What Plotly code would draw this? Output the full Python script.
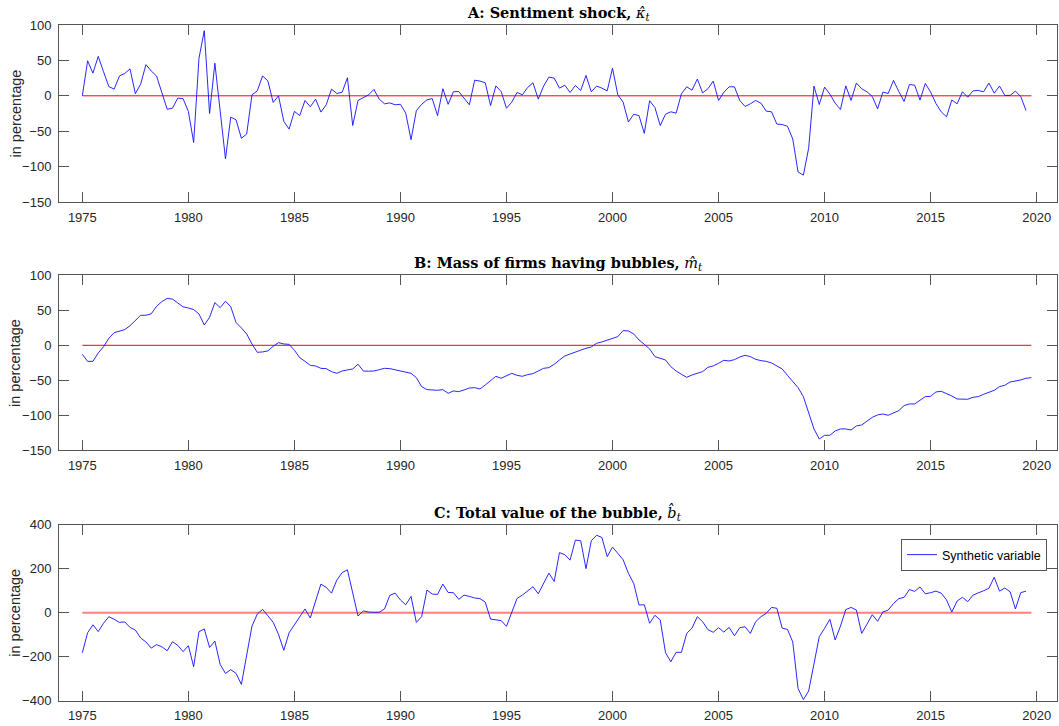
import plotly.graph_objects as go

# ---------------- data (quarterly, starting 1975Q1) ----------------
sentiment_shock = [
    0, 49.5, 32, 55.7, 34, 13, 9.4, 28, 31.6, 38, 3, 16.5, 44, 35, 28, 5, -19, -17.5, -3.3, -4,
    -22, -66, 53, 92, -25, 46, -22, -89, -30, -34, -60, -54, 1.4, 7, 28, 21, -9.4, 0, -36, -47,
    -22, -28, -6.6, -15.6, -4.7, -23, -12.7, 9.4, 3.3, 5, 25.5, -42, -6.6, -2, 1.4, 9, -4.7, -11.3, -10, -12.7,
    -12, -24.5, -62, -21, -12, -5.7, -4, -28, 10, -12, 5.7, 6, -3.3, -12.7, 22, 20.8, 18.4, -13.7, 14, 6,
    -17.5, -9, 4.7, 1.4, 11.8, 18.4, -4.7, 13.7, 26.4, 25, 10.8, 15, 4.7, 14.6, 7.5, 28.8, 5.7, 13.7, 10.8, 7,
    39, 1.4, -9, -37, -26, -28, -53, -7, -16.5, -42, -26, -22.6, -24.5, 2.8, 12.7, 8, 23.6, 4.2, 10, 20.8,
    -6.6, 5, 12.7, 12.7, -6.6, -15, -11.3, -6.6, -10.4, -21.7, -22.6, -40, -40.6, -43, -61, -107.5, -112, -74, 13.7, -12.3,
    12.3, 2.4, -10.4, -19.3, 14, -6.6, 18, 10, 5.7, -1, -18.4, 5.2, 3.3, 21.7, 6, -8, 16, 15, -6, 17.5,
    5.2, -10.8, -22.6, -29.7, -6, -11.3, 5.7, -2, 7, 7.5, 5.7, 18, 3.8, 13.7, 0.5, 0.5, 6.6, -1, -20.8,
]

mass_of_firms = [
    -12.9, -22.9, -22.9, -11, -2, 10, 18, 20.5, 22.4, 28, 34.8, 42.9, 42.9, 45, 55.7, 62.4, 67, 66, 60.5, 55,
    53.3, 51, 44.8, 29, 40, 61, 53.8, 62.9, 55, 32.4, 24.8, 16.2, 1.9, -10, -9.5, -8, -1.4, 3.8, 1.9, 1.4,
    -7, -17.6, -22.9, -28.6, -29.5, -32.9, -33.3, -37.6, -40, -36.7, -35.2, -33.8, -27, -36.7, -37, -36.7, -34.8, -32.9, -33.3, -34.8,
    -36, -37.6, -40, -46.2, -59, -63.3, -64.3, -64.3, -63.3, -68.6, -65.2, -66.2, -63.8, -61, -60.5, -62.4, -56.7, -50, -44.3, -47.1,
    -43.3, -40, -42.9, -44.3, -41.9, -40.5, -36.7, -32.9, -31.9, -27.1, -21, -15.2, -12.4, -9.5, -7.6, -4.3, -2.4, 2.9, 4.8, 7.6,
    10.5, 12.4, 21, 20.5, 16.2, 7.6, 1.4, -5.2, -16.2, -18.1, -21, -30.5, -36.7, -41.4, -45.7, -42.4, -40.5, -37.6, -31.4, -29.5,
    -25.7, -21.4, -22.4, -20.5, -16.7, -14.3, -16.2, -20, -21.9, -22.9, -25.2, -29, -33.8, -42.9, -51.4, -60.5, -73.3, -97.1, -119.5, -133.8,
    -128.6, -128.6, -122.4, -119.5, -119.5, -121, -115.2, -113.8, -108.1, -102.9, -99.5, -98.1, -100, -96.2, -93.3, -86.2, -83.8, -83.8, -78.1, -73.3,
    -72.9, -66.7, -65.7, -68.6, -72.4, -76.7, -76.7, -77.1, -74.3, -73.3, -70, -66.7, -64.3, -59, -57.1, -52.4, -51, -49.5, -47.1, -46.2,
]

bubble_value = [
    -182, -91, -55, -86, -48, -18, -30, -44, -42, -67, -79, -115, -133, -161, -145, -155, -173, -132, -148, -177,
    -150, -245, -86, -74, -158, -129, -235, -276, -259, -276, -326, -185, -61, -6, 15, -14, -44, -98, -171, -91,
    -55, -21, 17, -24, 55, 130, 115, 89, 148, 182, 195, 88, -15, 8, 3, 2, 2, 17, 79, 89,
    58, 36, 74, -44, -18, 103, 85, 83, 130, 92, 91, 61, 80, 74, 67, 64, 48, -29, -33, -36,
    -62, 6, 65, 80, 100, 118, 86, 136, 180, 142, 273, 264, 239, 330, 327, 200, 327, 352, 342, 255,
    298, 270, 241, 179, 133, 35, 36, -48, -12, -33, -182, -223, -180, -180, -94, -70, -18, -41, -77, -89,
    -68, -88, -67, -105, -68, -64, -94, -41, -18, -3, 24, 20, -70, -76, -133, -344, -395, -356, -223, -109,
    -71, -30, -124, -61, 14, 24, 12, -94, -52, -9, -39, 3, 12, 42, 64, 70, 105, 97, 117, 86,
    91, 98, 89, 58, 3, 53, 70, 50, 80, 89, 100, 111, 161, 98, 112, 95, 17, 91, 98,
]

start_year = 1975
zero_line_x = [1975, 2019.75]
zero_line_y = [0, 0]
x_tick_vals = [1975, 1980, 1985, 1990, 1995, 2000, 2005, 2010, 2015, 2020]

MATH = '<span style="font-family:\'DejaVu Serif\'"><i>{}</i></span>'
panel_titles = [
    "<b>A: Sentiment shock,</b> " + MATH.format("\u03ba\u0302<sub>t</sub>"),
    "<b>B: Mass of firms having bubbles,</b> " + MATH.format("m\u0302<sub>t</sub>"),
    "<b>C: Total value of the bubble,</b> " + MATH.format("b\u0302<sub>t</sub>"),
]
y_label = "in percentage"
legend_label = "Synthetic variable"
y_ranges = [[-150, 100], [-150, 100], [-400, 400]]
y_ticks = [[-150, -100, -50, 0, 50, 100], [-150, -100, -50, 0, 50, 100], [-400, -200, 0, 200, 400]]

series = [sentiment_shock, mass_of_firms, bubble_value]


def quarters(n):
    return [start_year + q / 4 for q in range(n)]


# ---------------- layout geometry (pixels) ----------------
W, H = 1059, 726
L, R = 59, 2
panels_px = [(25, 202), (275.3, 450.3), (524.7, 700.7)]  # top, bottom
title_center_px = [13, 263, 513]
ylabel_center_px = [113.5, 363, 612.7]


def py(p):
    return (H - p) / H


fig = go.Figure()
axis_font = dict(family="Liberation Sans, Arial, sans-serif", size=13, color="#262626")
line_col = "#555555"

for i, ys in enumerate(series):
    ax = "" if i == 0 else str(i + 1)
    fig.add_trace(go.Scatter(
        x=zero_line_x, y=zero_line_y, mode="lines",
        line=dict(color="red" if i < 2 else "rgba(255,0,0,0.5)", width=1 if i < 2 else 2),
        showlegend=False, xaxis="x" + ax, yaxis="y" + ax, hoverinfo="skip",
    ))
    fig.add_trace(go.Scatter(
        x=quarters(len(ys)), y=ys, mode="lines",
        line=dict(color="#1010ff", width=0.9),
        name=legend_label, showlegend=(i == 2),
        xaxis="x" + ax, yaxis="y" + ax,
    ))
    top, bot = panels_px[i]
    common = dict(showline=True, linecolor=line_col, linewidth=1, mirror="ticks",
                  ticks="inside", ticklen=10, tickcolor=line_col, tickwidth=1,
                  showgrid=False, zeroline=False, tickfont=axis_font, automargin=False)
    fig.layout["xaxis" + ax] = dict(
        domain=[0, 1], anchor="y" + ax, range=[1973.9, 2020.96],
        tickmode="array", tickvals=x_tick_vals, ticklabelstandoff=3, **common)
    fig.layout["yaxis" + ax] = dict(
        domain=[py(bot), py(top)], anchor="x" + ax, range=y_ranges[i],
        tickmode="array", tickvals=y_ticks[i], ticklabelstandoff=4, **common)
    fig.add_annotation(
        text=panel_titles[i], xref="paper", yref="paper", x=0.5, y=py(title_center_px[i]),
        xanchor="center", yanchor="middle", showarrow=False,
        font=dict(family="DejaVu Serif, Liberation Serif, serif", size=14.5, color="black"))
    fig.add_annotation(
        text=y_label, xref="paper", yref="paper", x=(15 - L) / (W - L - R), y=py(ylabel_center_px[i]),
        xanchor="center", yanchor="middle", textangle=-90, showarrow=False,
        font=dict(family="Liberation Sans, Arial, sans-serif", size=14.5, color="#262626"))

fig.update_layout(
    width=W, height=H,
    margin=dict(l=L, r=R, t=0, b=0, autoexpand=False),
    paper_bgcolor="white", plot_bgcolor="white",
    legend=dict(x=(1047 - L) / (W - L - R), y=py(539), xanchor="right", yanchor="top",
                bgcolor="white", bordercolor="#555555", borderwidth=1,
                font=dict(family="Liberation Sans, Arial, sans-serif", size=12.5, color="black"),
                tracegroupgap=0, itemwidth=30),
)

fig.write_html("out.html")
